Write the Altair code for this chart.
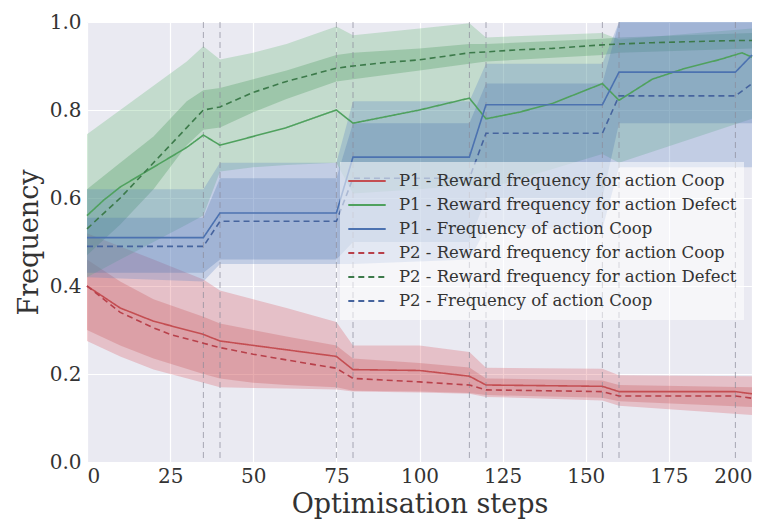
import altair as alt
import pandas as pd

# ---------------- data ----------------
names = [
    "P1 - Reward frequency for action Coop",
    "P1 - Reward frequency for action Defect",
    "P1 - Frequency of action Coop",
    "P2 - Reward frequency for action Coop",
    "P2 - Reward frequency for action Defect",
    "P2 - Frequency of action Coop",
]
line_colors = ["#C44E52", "#4FA15E", "#4C72B0", "#B8404A", "#3C7A4A", "#46649E"]
dashes = [[1, 0], [1, 0], [1, 0], [6, 4], [6, 4], [6, 4]]

# red: reward frequency for Coop
red_x = [0, 10, 20, 25, 35, 40, 50, 60, 75, 80, 100, 115, 120, 155, 160, 195, 200]
red_p1 = [0.40, 0.35, 0.32, 0.31, 0.29, 0.275, 0.265, 0.255, 0.24, 0.21, 0.208, 0.195, 0.175, 0.172, 0.16, 0.16, 0.155]
red_p2 = [0.40, 0.34, 0.305, 0.29, 0.27, 0.26, 0.245, 0.232, 0.213, 0.19, 0.182, 0.175, 0.164, 0.16, 0.15, 0.15, 0.145]

# green: reward frequency for Defect
green_x = [0, 5, 10, 20, 30, 35, 40, 50, 60, 75, 80, 90, 100, 115, 120, 130, 140, 155, 160, 170, 180, 190, 197, 200]
green_p1 = [0.56, 0.595, 0.625, 0.67, 0.715, 0.743, 0.72, 0.74, 0.76, 0.80, 0.77, 0.785, 0.80, 0.827, 0.78, 0.795,
            0.815, 0.86, 0.822, 0.87, 0.895, 0.914, 0.93, 0.92]
green_p2 = [0.53, 0.565, 0.60, 0.68, 0.76, 0.80, 0.807, 0.84, 0.865, 0.895, 0.90, 0.908, 0.914, 0.93, 0.932, 0.937,
            0.94, 0.948, 0.95, 0.953, 0.955, 0.957, 0.958, 0.958]

# blue: frequency of action Coop
blue_x = [0, 35, 40, 75, 80, 115, 120, 155, 160, 195, 200]
blue_p1 = [0.51, 0.51, 0.566, 0.566, 0.693, 0.693, 0.812, 0.812, 0.886, 0.886, 0.925]
blue_p2 = [0.49, 0.49, 0.547, 0.547, 0.645, 0.645, 0.747, 0.747, 0.832, 0.832, 0.86]

# confidence bands
red_band_x = [0, 10, 20, 35, 40, 50, 60, 75, 80, 100, 115, 120, 155, 160, 200]
red_outer_hi = [0.52, 0.49, 0.46, 0.415, 0.39, 0.37, 0.35, 0.318, 0.265, 0.265, 0.25, 0.214, 0.212, 0.197, 0.195]
red_outer_lo = [0.275, 0.24, 0.21, 0.18, 0.17, 0.168, 0.167, 0.165, 0.16, 0.158, 0.155, 0.148, 0.14, 0.128, 0.107]
red_inner_hi = [0.46, 0.41, 0.37, 0.33, 0.315, 0.30, 0.285, 0.265, 0.235, 0.225, 0.215, 0.19, 0.185, 0.175, 0.17]
red_inner_lo = [0.30, 0.265, 0.235, 0.20, 0.19, 0.18, 0.175, 0.17, 0.162, 0.16, 0.157, 0.152, 0.146, 0.138, 0.125]

green_band_x = [0, 10, 20, 30, 35, 40, 50, 60, 75, 80, 100, 115, 120, 155, 160, 200]
green_outer_hi = [0.745, 0.80, 0.855, 0.91, 0.945, 0.915, 0.93, 0.95, 0.99, 0.97, 0.985, 0.997, 0.965, 0.975, 0.96, 0.985]
green_outer_lo = [0.42, 0.46, 0.50, 0.54, 0.56, 0.66, 0.67, 0.675, 0.68, 0.61, 0.62, 0.63, 0.62, 0.70, 0.68, 0.78]
green_inner_hi = [0.62, 0.68, 0.74, 0.82, 0.845, 0.85, 0.87, 0.89, 0.925, 0.93, 0.94, 0.95, 0.95, 0.962, 0.965, 0.975]
green_inner_lo = [0.47, 0.54, 0.62, 0.72, 0.755, 0.76, 0.795, 0.825, 0.865, 0.87, 0.89, 0.905, 0.91, 0.925, 0.93, 0.94]

blue_band_x = [0, 35, 40, 75, 80, 115, 120, 155, 160, 200]
blue_outer_hi = [0.62, 0.62, 0.68, 0.68, 0.82, 0.82, 0.905, 0.905, 1.0, 1.0]
blue_outer_lo = [0.42, 0.41, 0.45, 0.45, 0.45, 0.46, 0.53, 0.53, 0.67, 0.67]
blue_inner_hi = [0.555, 0.555, 0.645, 0.645, 0.77, 0.77, 0.86, 0.86, 1.0, 1.0]
blue_inner_lo = [0.43, 0.43, 0.46, 0.46, 0.50, 0.50, 0.60, 0.60, 0.77, 0.77]

vlines = [35, 40, 75, 80, 115, 120, 155, 160, 195]
x_ticks = [0, 25, 50, 75, 100, 125, 150, 175, 200]
y_ticks = [0.0, 0.2, 0.4, 0.6, 0.8, 1.0]

# ---------------- tables ----------------
line_rows = []
for name, xs, ys in [
    (names[0], red_x, red_p1), (names[1], green_x, green_p1), (names[2], blue_x, blue_p1),
    (names[3], red_x, red_p2), (names[4], green_x, green_p2), (names[5], blue_x, blue_p2),
]:
    for i, (xv, yv) in enumerate(zip(xs, ys)):
        line_rows.append({"series": name, "x": xv, "y": yv})
lines_df = pd.DataFrame(line_rows)

band_specs = [
    ("red_outer", red_band_x, red_outer_lo, red_outer_hi),
    ("red_inner", red_band_x, red_inner_lo, red_inner_hi),
    ("green_outer", green_band_x, green_outer_lo, green_outer_hi),
    ("green_inner", green_band_x, green_inner_lo, green_inner_hi),
    ("blue_outer", blue_band_x, blue_outer_lo, blue_outer_hi),
    ("blue_inner", blue_band_x, blue_inner_lo, blue_inner_hi),
]
band_rows = []
for band, xs, lo, hi in band_specs:
    for xv, l, h in zip(xs, lo, hi):
        band_rows.append({"band": band, "x": xv, "y": l, "hi": h})
bands_df = pd.DataFrame(band_rows)
band_names = [b[0] for b in band_specs]
band_colors = ["#D9535F", "#C44E52", "#5DB36E", "#3E9150", "#5A82C2", "#4C72B0"]
band_opacity = [0.28, 0.28, 0.26, 0.30, 0.30, 0.28]

vl_df = pd.DataFrame({"x": vlines})

# ---------------- chart ----------------
xscale = alt.Scale(domain=[0, 200], nice=False, zero=False)
yscale = alt.Scale(domain=[0, 1], nice=False)

x_enc = alt.X("x:Q", scale=xscale,
              axis=alt.Axis(values=x_ticks, format="d", title="Optimisation steps",
                            labelPadding=4, titlePadding=5))
y_enc = alt.Y("y:Q", scale=yscale,
              axis=alt.Axis(values=y_ticks, format=".1f", title="Frequency",
                            labelPadding=6, titlePadding=6))

bands = alt.Chart(bands_df).mark_area(interpolate="linear").encode(
    x=x_enc,
    y=y_enc,
    y2="hi:Q",
    fill=alt.Fill("band:N", scale=alt.Scale(domain=band_names, range=band_colors), legend=None),
    fillOpacity=alt.FillOpacity("band:N", scale=alt.Scale(domain=band_names, range=band_opacity), legend=None),
)

rules = alt.Chart(vl_df).mark_rule(color="#8a8a9a", strokeWidth=1, strokeDash=[6, 4], opacity=0.7).encode(
    x=alt.X("x:Q", scale=xscale)
)

legend = alt.Legend(
    title=None, orient="none", legendX=253, legendY=140,
    symbolType="stroke", symbolSize=1400, symbolStrokeWidth=2,
    labelFont="DejaVu Serif", labelFontSize=16.5, labelColor="#333333",
    fillColor="rgba(255,255,255,0.55)", padding=7, rowPadding=0, clipHeight=24,
    labelOffset=12, labelLimit=600,
)

lines = alt.Chart(lines_df).mark_line(strokeWidth=1.6).encode(
    x=x_enc,
    y=y_enc,
    color=alt.Color("series:N", scale=alt.Scale(domain=names, range=line_colors), legend=legend),
    strokeDash=alt.StrokeDash("series:N", scale=alt.Scale(domain=names, range=dashes), legend=legend),
)

chart = alt.layer(bands, rules, lines).properties(
    width=665, height=440,
    autosize=alt.AutoSizeParams(type="none"),
    padding={"left": 79, "top": 14, "right": 16, "bottom": 70},
).configure_view(
    fill="#EAEAF2", stroke=None
).configure_axis(
    domain=False, ticks=False, grid=True, gridColor="white", gridWidth=1.2,
    labelFont="DejaVu Serif", labelFontSize=20, labelColor="#333333",
    titleFont="DejaVu Serif", titleFontSize=27, titleFontWeight="normal", titleColor="#333333",
)

chart.save("out.html", embed_options={"renderer": "svg", "actions": False})
